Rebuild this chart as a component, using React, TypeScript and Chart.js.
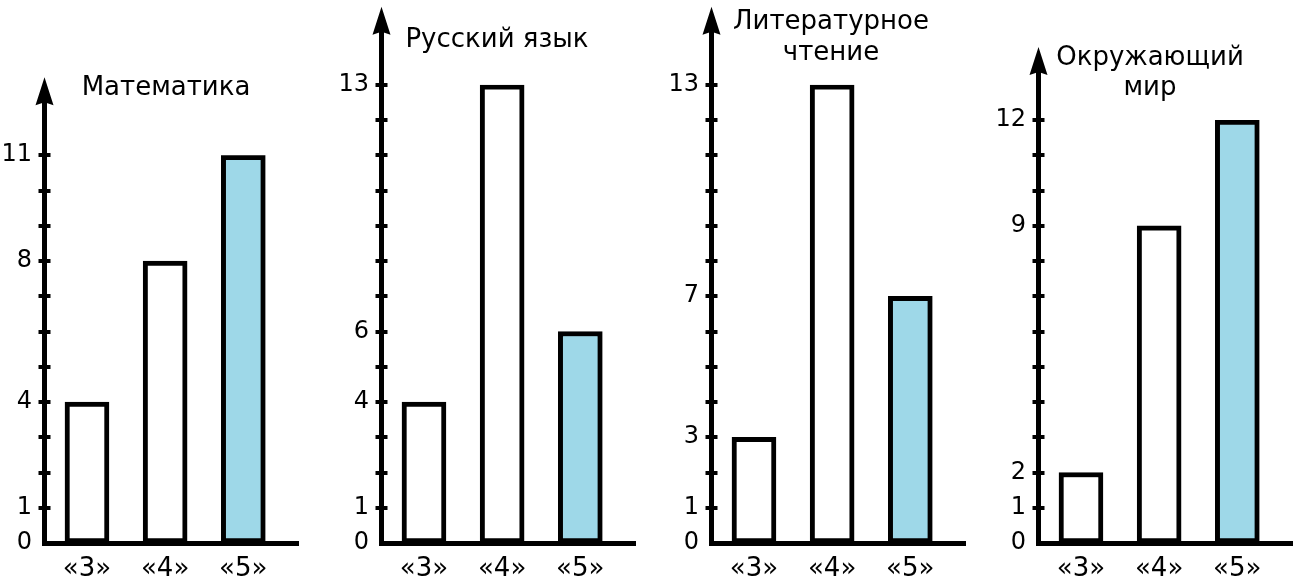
import React, { useEffect, useRef } from 'react';
import { Chart, registerables } from 'chart.js';

Chart.register(...registerables);

// ---- data ----
const grades = ['«3»', '«4»', '«5»'];

const mathTitle = ['Математика'];
const russianTitle = ['Русский язык'];
const readingTitle = ['Литературное', 'чтение'];
const worldTitle = ['Окружающий', 'мир'];

const mathCounts = [4, 8, 11];
const russianCounts = [4, 13, 6];
const readingCounts = [3, 13, 7];
const worldCounts = [2, 9, 12];

const mathTickLabels = [0, 1, 4, 8, 11];
const russianTickLabels = [0, 1, 4, 6, 13];
const readingTickLabels = [0, 1, 3, 7, 13];
const worldTickLabels = [0, 1, 2, 9, 12];

// ---- layout / style ----
const FONT = "'DejaVu Sans', Verdana, sans-serif";
const PX_PER_UNIT = 35.25;
const AXIS_Y = 543;
const CANVAS_W = 300;
const CANVAS_H = 588;
const AREA_LEFT = 44;
const AREA_RIGHT = 298;
const BLUE = 'rgb(158,216,232)';

const panels = [
  { title: mathTitle, counts: mathCounts, tickLabels: mathTickLabels, axisX: 44, titleDx: 122, titleY: [88], arrowRise: 78 },
  { title: russianTitle, counts: russianCounts, tickLabels: russianTickLabels, axisX: 381, titleDx: 116, titleY: [40], arrowRise: 78 },
  { title: readingTitle, counts: readingCounts, tickLabels: readingTickLabels, axisX: 711, titleDx: 120, titleY: [22, 53], arrowRise: 78 },
  { title: worldTitle, counts: worldCounts, tickLabels: worldTickLabels, axisX: 1038, titleDx: 112, titleY: [58, 88], arrowRise: 73 },
];

const decorPlugin = {
  id: 'decor',
  afterDraw(chart: any, _args: any, opts: any) {
    const { ctx, chartArea } = chart;
    const yScale = chart.scales.y;
    const xa = Math.round(chartArea.left - 2.5) + 2.5;
    ctx.save();
    ctx.fillStyle = '#000';
    // tick dashes crossing the axis
    yScale.ticks.forEach((t: any) => {
      if (t.value === 0) return;
      const y = yScale.getPixelForValue(t.value);
      ctx.fillRect(xa - 6, Math.round(y) - 2, 12, 4);
    });
    // axis extension and arrow head
    const tipY = chartArea.top - opts.arrowRise;
    ctx.fillRect(xa - 2.5, tipY + 20, 5, chartArea.top - tipY - 18);
    ctx.beginPath();
    ctx.moveTo(xa, tipY);
    ctx.lineTo(xa + 9, tipY + 28);
    ctx.lineTo(xa, tipY + 25);
    ctx.lineTo(xa - 9, tipY + 28);
    ctx.closePath();
    ctx.fill();
    // title
    ctx.font = `26px ${FONT}`;
    ctx.textAlign = 'center';
    ctx.textBaseline = 'middle';
    (opts.lines as string[]).forEach((line, i) => {
      ctx.fillText(line, chartArea.left + opts.dx, opts.ys[i]);
    });
    ctx.restore();
  },
};

function Panel({ p }: { p: (typeof panels)[number] }) {
  const ref = useRef<HTMLCanvasElement | null>(null);
  useEffect(() => {
    if (!ref.current) return;
    const yMax = Math.max(...p.tickLabels);
    const chart = new Chart(ref.current, {
      type: 'bar',
      data: {
        datasets: [
          {
            data: p.counts.map((v, i) => ({ x: i, y: v })) as any,
            backgroundColor: ['#ffffff', '#ffffff', BLUE],
            borderColor: '#000',
            borderWidth: 5,
            borderSkipped: false,
            barThickness: 44,
          } as any,
        ],
      },
      options: {
        animation: false,
        responsive: false,
        maintainAspectRatio: false,
        events: [],
        layout: {
          padding: {
            top: AXIS_Y - yMax * PX_PER_UNIT,
            left: 0,
            right: CANVAS_W - AREA_RIGHT,
            bottom: 0,
          },
        },
        plugins: {
          legend: { display: false },
          tooltip: { enabled: false },
          title: { display: false },
          decor: { lines: p.title, dx: p.titleDx, ys: p.titleY, arrowRise: p.arrowRise },
        } as any,
        scales: {
          x: {
            type: 'linear',
            offset: false,
            min: -0.55,
            max: 2.7,
            grid: { display: false, drawTicks: false, offset: false },
            border: { display: true, width: 5, color: '#000' },
            afterBuildTicks: (s: any) => {
              s.ticks = grades.map((_, i) => ({ value: i }));
            },
            afterFit: (s: any) => {
              s.height = CANVAS_H - AXIS_Y;
            },
            ticks: {
              autoSkip: false,
              maxRotation: 0,
              padding: 11,
              color: '#000',
              font: { size: 26, family: FONT },
              callback: (v: any) => grades[v] ?? '',
            },
          },
          y: {
            type: 'linear',
            min: 0,
            max: yMax,
            grid: { display: false, drawTicks: false },
            border: { display: true, width: 5, color: '#000' },
            afterFit: (s: any) => {
              s.width = AREA_LEFT;
            },
            ticks: {
              stepSize: 1,
              autoSkip: false,
              padding: 12,
              color: '#000',
              font: { size: 24, family: FONT },
              callback: (v: any) => (p.tickLabels.includes(v) ? String(v) : ''),
            },
          },
        } as any,
      },
      plugins: [decorPlugin],
    });
    return () => chart.destroy();
  }, [p]);
  return (
    <canvas
      ref={ref}
      width={CANVAS_W}
      height={CANVAS_H}
      style={{ position: 'absolute', top: 0, left: p.axisX - AREA_LEFT, width: CANVAS_W, height: CANVAS_H }}
    />
  );
}

export default function App() {
  return (
    <div
      style={{
        position: 'fixed',
        left: 0,
        top: 0,
        width: 1301,
        height: 588,
        background: '#fff',
        overflow: 'hidden',
      }}
    >
      {panels.map((p, i) => (
        <Panel key={i} p={p} />
      ))}
    </div>
  );
}
